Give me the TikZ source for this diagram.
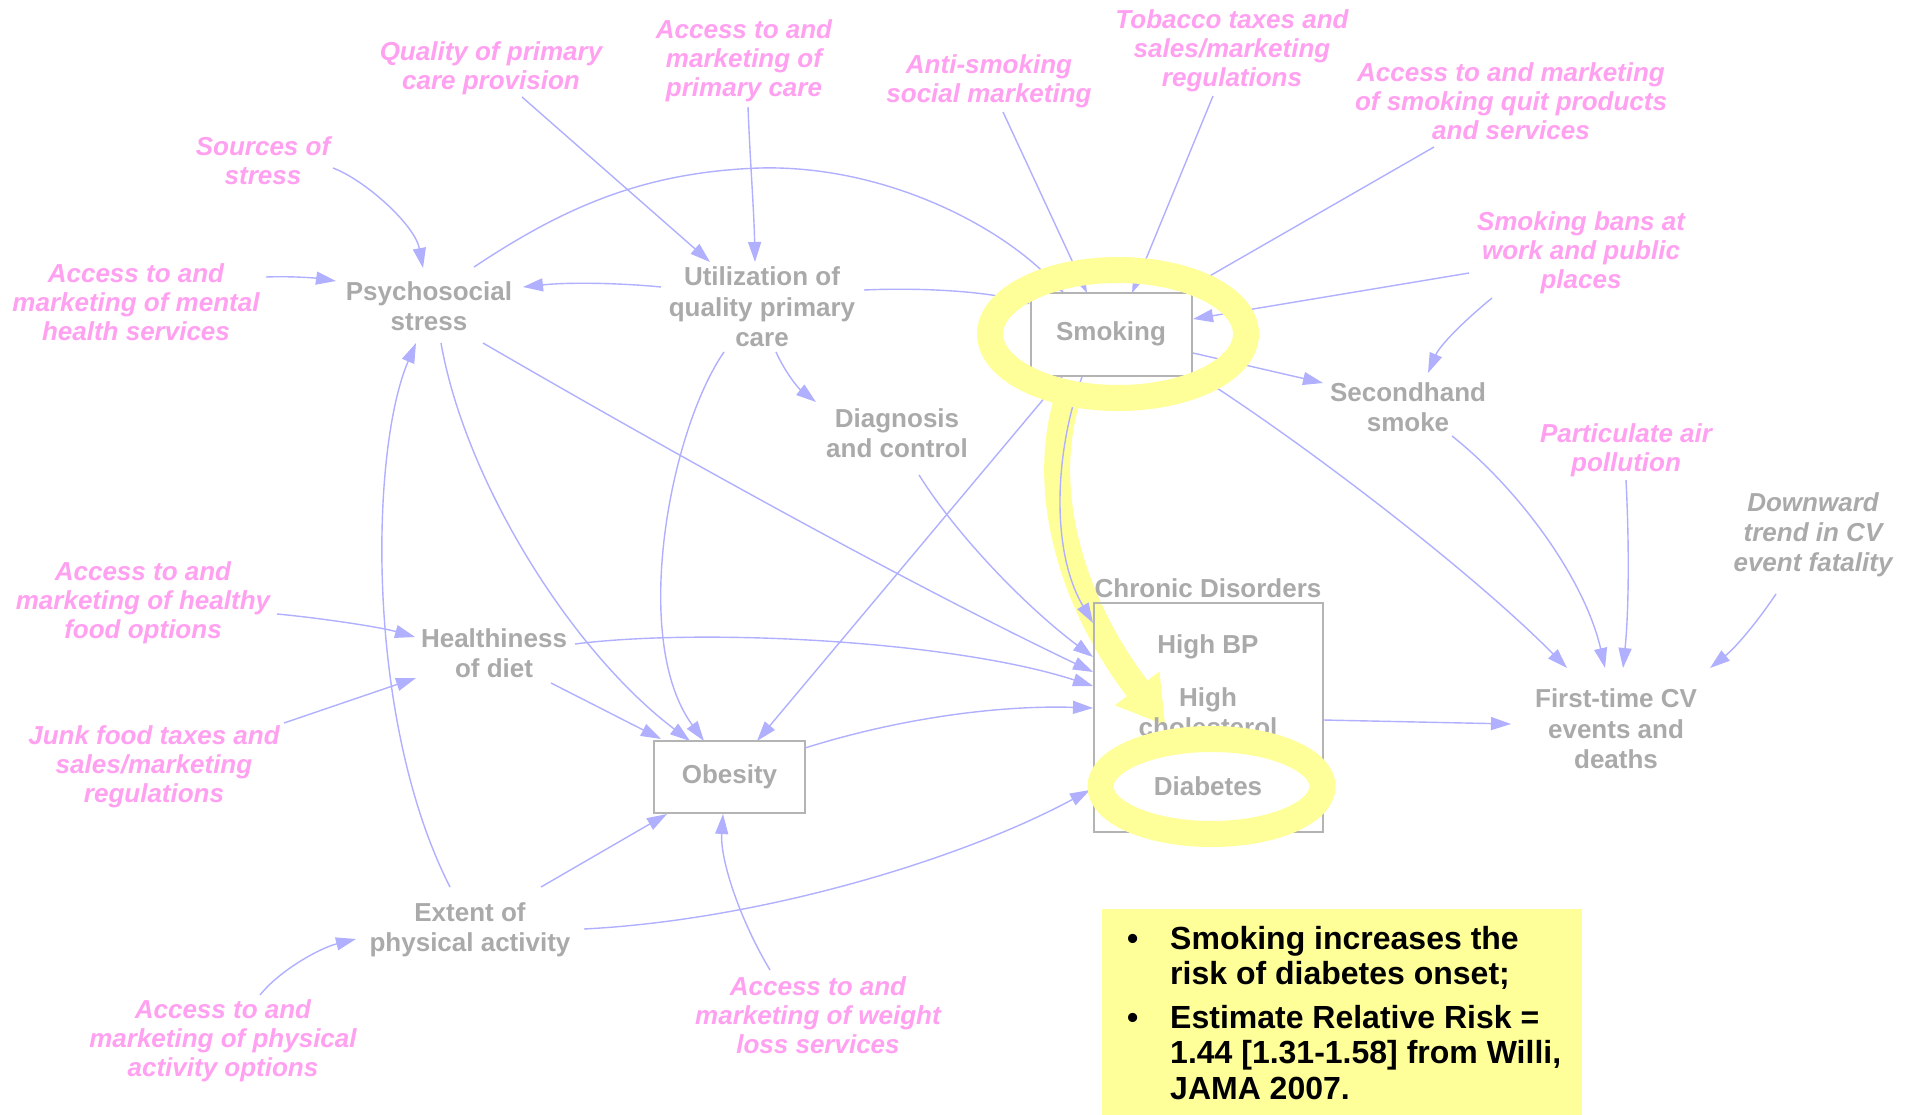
\documentclass[tikz,border=0pt]{standalone}
\usepackage{fontspec}
\setmainfont{Liberation Sans}
\usetikzlibrary{arrows.meta}

\definecolor{linkblue}{RGB}{176,176,255}
\definecolor{labelgray}{RGB}{170,170,170}
\definecolor{policypink}{RGB}{255,160,240}
\definecolor{boxgray}{RGB}{180,180,180}
\definecolor{glow}{RGB}{255,255,153}

\pgfdeclarelayer{links}
\pgfdeclarelayer{marker}
\pgfsetlayers{links,marker,main}

\tikzset{
  var/.style={font=\bfseries\fontsize{26}{30.5}\selectfont, text=labelgray, align=center, inner sep=0pt},
  policy/.style={font=\bfseries\itshape\fontsize{26}{29}\selectfont, text=policypink, align=center, inner sep=0pt},
  trend/.style={font=\bfseries\itshape\fontsize{26}{30}\selectfont, text=labelgray, align=center, inner sep=0pt},
  stock/.style={var, draw=boxgray, line width=2pt},
  link/.style={draw=linkblue, line width=1.4pt, -{Triangle[length=20pt,width=13pt]}},
  notetext/.style={font=\bfseries\fontsize{32}{35.5}\selectfont, text=black, inner sep=0pt},
  highlight/.style={draw=glow, line width=26pt},
}

\begin{document}
\begin{tikzpicture}[x=1pt,y=-1pt]
\useasboundingbox (0,0) rectangle (1913,1115);
\begin{pgfonlayer}{links}
  \fill[white] (0,0) rectangle (1913,1115);
\end{pgfonlayer}

% policy levers
\node[policy] (src)     at (263,161)  {Sources of\\stress};
\node[policy] (qual)    at (491,68)   {Quality of primary\\care provision};
\node[policy] (accpc)   at (744,61)   {Access to and\\marketing of\\primary care};
\node[policy] (anti)    at (989,81)   {Anti-smoking\\social marketing};
\node[policy] (tob)     at (1232,51)  {Tobacco taxes and\\sales/marketing\\regulations};
\node[policy] (quit)    at (1511,101) {Access to and marketing\\of smoking quit products\\and services};
\node[policy] (bans)    at (1581,253) {Smoking bans at\\work and public\\places};
\node[policy] (accmh)   at (136,302)  {Access to and\\marketing of mental\\health services};
\node[policy] (accfood) at (143,603)  {Access to and\\marketing of healthy\\food options};
\node[policy] (junk)    at (154,767)  {Junk food taxes and\\sales/marketing\\regulations};
\node[policy] (accpa)   at (223,1041) {Access to and\\marketing of physical\\activity options};
\node[policy] (accwl)   at (818,1015) {Access to and\\marketing of weight\\loss services};
\node[policy] (pm)      at (1626,450) {Particulate air\\pollution};
\node[trend]  (down)    at (1813,535) {Downward\\trend in CV\\event fatality};

% model variables
\node[var] (psych)  at (429,306)  {Psychosocial\\stress};
\node[var] (util)   at (762,307)  {Utilization of\\quality primary\\care};
\node[stock, minimum width=161pt, minimum height=83pt] (smoke) at (1111,334) {Smoking};
\node[var] (diag)   at (897,433)  {Diagnosis\\and control};
\node[var] (shs)    at (1408,407) {Secondhand\\smoke};
\node[var] (diet)   at (494,653)  {Healthiness\\of diet};
\node[stock, minimum width=151pt, minimum height=72pt] (obes) at (729.5,777) {Obesity};
\node[var] (extent) at (470,930)  {Extent of\\physical activity};
\node[var] (fcv)    at (1616,729) {First-time CV\\events and\\deaths};

% chronic disorders group
\node[draw=boxgray, line width=2pt, minimum width=229pt, minimum height=229pt, inner sep=0pt] (chronic) at (1208.5,717.5) {};
\node[var] (chrtitle) at (1208,588) {Chronic Disorders};
\node[var] (hbp)   at (1208,647) {High BP};
\node[var] (hchol) at (1208,712) {High\\cholesterol};
\node[var] (diab)  at (1208,786) {Diabetes};

% evidence note
\node[fill=glow, minimum width=480pt, minimum height=206pt, inner sep=0pt] (note) at (1342,1012) {};
\node[notetext, anchor=base west] (b1) at (1127,949) {\textbullet};
\node[notetext, anchor=north west, align=left] (t1) at (1170,926) {Smoking increases the\\risk of diabetes onset;};
\node[notetext, anchor=base west] (b2) at (1127,1028) {\textbullet};
\node[notetext, anchor=north west, align=left] (t2) at (1170,1005) {Estimate Relative Risk =\\1.44 [1.31-1.58] from Willi,\\JAMA 2007.};

% causal links
\begin{pgfonlayer}{links}
\draw[link] ([shift={(70,7)}]src.center) .. controls (365,180) and (415,225) .. ([shift={(-6,-38)}]psych.center);
\draw[link] ([shift={(130,-25)}]accmh.center) .. controls (290,276) and (315,278) .. ([shift={(-93,-25)}]psych.center);
\draw[link] ([shift={(-101,-20)}]util.center) .. controls (620,283) and (570,282) .. ([shift={(94,-19)}]psych.center);
\draw[link] ([shift={(45,-39)}]psych.center) .. controls (560,210) and (640,172) .. (760,168) .. controls (880,165) and (995,222) .. ([shift={(-47,-41)}]smoke.center);
\draw[link] ([shift={(31,29)}]qual.center) -- ([shift={(-52,-45)}]util.center);
\draw[link] ([shift={(4,46)}]accpc.center) .. controls (750,160) and (754,210) .. ([shift={(-7,-45)}]util.center);
\draw[link] ([shift={(102,-17)}]util.center) .. controls (930,287) and (990,293) .. ([shift={(-81,-30)}]smoke.center);
\draw[link] ([shift={(14,31)}]anti.center) -- ([shift={(-24,-41)}]smoke.center);
\draw[link] ([shift={(-19,45)}]tob.center) -- ([shift={(21,-41)}]smoke.center);
\draw[link] ([shift={(-77,46)}]quit.center) -- ([shift={(69,-41)}]smoke.center);
\draw[link] ([shift={(-112,20)}]bans.center) -- ([shift={(82,-15)}]smoke.center);
\draw[link] ([shift={(-89,45)}]bans.center) .. controls (1465,320) and (1440,345) .. ([shift={(20,-34)}]shs.center);
\draw[link] ([shift={(82,19)}]smoke.center) -- ([shift={(-85,-24)}]shs.center);
\draw[link] ([shift={(81,38)}]smoke.center) .. controls (1300,440) and (1470,570) .. ([shift={(-49,-61)}]fcv.center);
\draw[link] ([shift={(44,29)}]shs.center) .. controls (1520,490) and (1585,580) .. ([shift={(-11,-61)}]fcv.center);
\draw[link] ([shift={(0,30)}]pm.center) .. controls (1630,560) and (1628,620) .. ([shift={(7,-61)}]fcv.center);
\draw[link] ([shift={(-37,59)}]down.center) .. controls (1755,625) and (1735,648) .. ([shift={(94,-61)}]fcv.center);
\draw[link] ([shift={(114.5,2.5)}]chronic.center) -- ([shift={(-105,-5)}]fcv.center);
\draw[link] ([shift={(14,45)}]util.center) .. controls (785,372) and (798,388) .. ([shift={(-81,-31)}]diag.center);
\draw[link] ([shift={(22,42)}]diag.center) .. controls (960,540) and (1030,610) .. ([shift={(-115.5,-60.5)}]chronic.center);
\draw[link] ([shift={(54,37)}]psych.center) .. controls (650,440) and (900,580) .. ([shift={(-115.5,-45.5)}]chronic.center);
\draw[link] ([shift={(81,-9)}]diet.center) .. controls (700,628) and (950,640) .. ([shift={(-115.5,-31.5)}]chronic.center);
\draw[link] ([shift={(75.5,-29)}]obes.center) .. controls (900,718) and (1000,705) .. ([shift={(-115.5,-9.5)}]chronic.center);
\draw[link] ([shift={(114,-1)}]extent.center) .. controls (760,920) and (960,860) .. ([shift={(-118,4)}]diab.center);
\draw[link] ([shift={(-20,-43)}]extent.center) .. controls (365,720) and (370,450) .. ([shift={(-13,37)}]psych.center);
\draw[link] ([shift={(71,-43)}]extent.center) -- ([shift={(-62.5,37)}]obes.center);
\draw[link] ([shift={(12,37)}]psych.center) .. controls (465,480) and (570,650) .. ([shift={(-39.5,-36)}]obes.center);
\draw[link] ([shift={(-38,45)}]util.center) .. controls (670,430) and (630,640) .. ([shift={(-25.5,-36)}]obes.center);
\draw[link] ([shift={(-49,43)}]smoke.center) -- ([shift={(27.5,-36)}]obes.center);
\draw[link] ([shift={(57,30)}]diet.center) -- ([shift={(-68.5,-38)}]obes.center);
\draw[link] ([shift={(134,11)}]accfood.center) .. controls (320,618) and (380,627) .. ([shift={(-79,-16)}]diet.center);
\draw[link] ([shift={(130,-44)}]junk.center) -- ([shift={(-78,25)}]diet.center);
\draw[link] ([shift={(37,-46)}]accpa.center) .. controls (280,970) and (320,948) .. ([shift={(-114,9)}]extent.center);
\draw[link] ([shift={(-48,-45)}]accwl.center) .. controls (740,920) and (720,860) .. ([shift={(-6.5,37)}]obes.center);
\end{pgfonlayer}

% emphasised pathway: smoking -> diabetes
\begin{pgfonlayer}{marker}
\draw[draw=glow, line width=26pt, -{Triangle[length=46pt,width=56pt,line width=0pt]}]
  (1067,400) .. controls (1040,490) and (1070,600) .. (1165,725);
\end{pgfonlayer}
\draw[link] ([shift={(-29,43)}]smoke.center) .. controls (1055,450) and (1050,550) .. ([shift={(-115.5,-94.5)}]chronic.center);

% rings around the two variables
\draw[highlight] (1118,334) ellipse [x radius=128pt, y radius=64pt];
\draw[highlight] (1211.5,786.5) ellipse [x radius=111pt, y radius=47.5pt];
\end{tikzpicture}
\end{document}
